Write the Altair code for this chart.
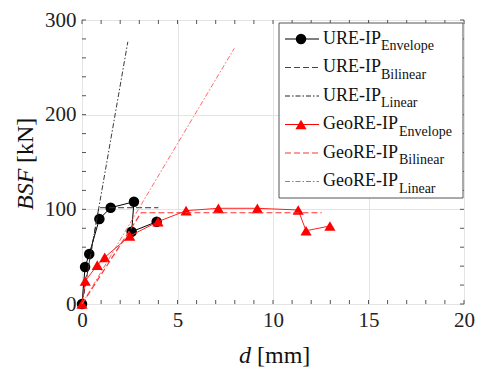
import altair as alt
import pandas as pd

# ---- data ----
ure_env_d = [0, 0.16, 0.38, 0.91, 1.50, 2.72, 2.60, 3.91]
ure_env_f = [0, 39.0, 52.8, 89.8, 101.7, 108.0, 76.4, 86.9]
ure_bil_d = [0, 0.88, 4.0]
ure_bil_f = [0, 101.7, 101.7]
ure_lin_d = [0, 2.40]
ure_lin_f = [0, 277.0]
geo_env_d = [0, 0.17, 0.80, 1.19, 2.50, 3.98, 5.45, 7.14, 9.18, 11.32, 11.73, 12.98]
geo_env_f = [0, 24.3, 41.0, 49.3, 71.8, 87.0, 98.6, 101.1, 101.1, 99.3, 77.4, 82.4]
geo_bil_d = [0, 3.1, 12.55]
geo_bil_f = [0, 96.4, 96.4]
geo_lin_d = [0, 7.97]
geo_lin_f = [0, 270.0]

x_ticks = [0, 5, 10, 15, 20]
y_ticks = [0, 100, 200, 300]
x_minor = list(range(0, 21, 1))
y_minor = list(range(0, 301, 20))

leg_main = ["URE-IP", "URE-IP", "URE-IP", "GeoRE-IP", "GeoRE-IP", "GeoRE-IP"]
leg_sub = ["Envelope", "Bilinear", "Linear", "Envelope", "Bilinear", "Linear"]

# ---- styling ----
FONT = "Liberation Serif"
W, H = 382, 284
FRAME = "#555555"
RED = "#ff0000"
DASH = [6, 3]
DASHDOT = [5, 2, 1.5, 2]
CIRC_SIZE = 110
TRI_SIZE = 125

xs = alt.Scale(domain=[0, 20], nice=False, zero=False)
ys = alt.Scale(domain=[0, 300], nice=False, zero=False)
xax = alt.Axis(values=x_ticks, grid=True, gridColor="#e4e4e4", gridWidth=1, ticks=False,
               domain=False, labelFont=FONT, labelFontSize=21, labelColor="#222222",
               labelPadding=5, title=None, labelFlush=False)
yax = alt.Axis(values=y_ticks, grid=True, gridColor="#e4e4e4", gridWidth=1, ticks=False,
               domain=False, labelFont=FONT, labelFontSize=21, labelColor="#222222",
               labelPadding=6, title=None, labelFlush=False)


def series_df(d, f):
    return pd.DataFrame({"d": d, "f": f, "i": list(range(len(d)))})


def enc(ch):
    return ch.encode(x=alt.X("d:Q", scale=xs, axis=xax),
                     y=alt.Y("f:Q", scale=ys, axis=yax),
                     order=alt.Order("i:Q"))


layers = []

# minor/major inward ticks on all four sides
dfx = pd.DataFrame({"d": x_minor})
dfy = pd.DataFrame({"f": y_minor})
layers.append(alt.Chart(dfx).mark_rule(color=FRAME, strokeWidth=1).encode(
    x=alt.X("d:Q", scale=xs, axis=xax), y=alt.value(H), y2=alt.value(H - 4)))
layers.append(alt.Chart(dfx).mark_rule(color=FRAME, strokeWidth=1).encode(
    x=alt.X("d:Q", scale=xs, axis=xax), y=alt.value(0), y2=alt.value(4)))
layers.append(alt.Chart(dfy).mark_rule(color=FRAME, strokeWidth=1).encode(
    y=alt.Y("f:Q", scale=ys, axis=yax), x=alt.value(0), x2=alt.value(4)))
layers.append(alt.Chart(dfy).mark_rule(color=FRAME, strokeWidth=1).encode(
    y=alt.Y("f:Q", scale=ys, axis=yax), x=alt.value(W), x2=alt.value(W - 4)))

# URE-IP
ue = series_df(ure_env_d, ure_env_f)
layers.append(enc(alt.Chart(ue).mark_line(color="black", strokeWidth=1)))
layers.append(enc(alt.Chart(ue).mark_point(shape="circle", filled=True, color="black",
                                           size=CIRC_SIZE, opacity=1)))
layers.append(enc(alt.Chart(series_df(ure_bil_d, ure_bil_f)).mark_line(
    color="#333333", strokeWidth=1, strokeDash=DASH)))
layers.append(enc(alt.Chart(series_df(ure_lin_d, ure_lin_f)).mark_line(
    color="#222222", strokeWidth=0.9, strokeDash=DASHDOT)))

# GeoRE-IP
ge = series_df(geo_env_d, geo_env_f)
layers.append(enc(alt.Chart(ge).mark_line(color="#ff2020", strokeWidth=1)))
layers.append(enc(alt.Chart(ge).mark_point(shape="triangle-up", filled=True, color=RED,
                                           size=TRI_SIZE, opacity=1)))
layers.append(enc(alt.Chart(series_df(geo_bil_d, geo_bil_f)).mark_line(
    color="#ff3333", strokeWidth=1.2, strokeDash=DASH)))
layers.append(enc(alt.Chart(series_df(geo_lin_d, geo_lin_f)).mark_line(
    color="#ff5555", strokeWidth=0.9, strokeDash=DASHDOT)))

# ---- legend (manual, for subscripts) ----
one = pd.DataFrame({"a": [0]})
LX0, LX1, LY0, LY1 = 197, W - 1, 3, 178
layers.append(alt.Chart(one).mark_rect(fill="white", stroke=FRAME, strokeWidth=1).encode(
    x=alt.value(LX0), x2=alt.value(LX1), y=alt.value(LY0), y2=alt.value(LY1)))

row_h = 28.5
styles = [
    ("black", None, "circle"),
    ("#444444", DASH, None),
    ("#222222", DASHDOT, None),
    (RED, None, "triangle-up"),
    ("#ff3333", DASH, None),
    ("#ff5555", DASHDOT, None),
]
for k, (m, s) in enumerate(zip(leg_main, leg_sub)):
    col, dash, shape = styles[k]
    yl = 19 + k * row_h
    rule_kw = dict(color=col, strokeWidth=1)
    if dash:
        rule_kw["strokeDash"] = dash
    layers.append(alt.Chart(one).mark_rule(**rule_kw).encode(
        x=alt.value(203), x2=alt.value(237), y=alt.value(yl)))
    if shape:
        layers.append(alt.Chart(one).mark_point(shape=shape, filled=True, color=col,
                                                size=CIRC_SIZE if shape == "circle" else TRI_SIZE,
                                                opacity=1).encode(
            x=alt.value(219), y=alt.value(yl)))
    tdf = pd.DataFrame({"m": [m], "s": [s]})
    layers.append(alt.Chart(tdf).mark_text(font=FONT, fontSize=18, align="left",
                                           baseline="alphabetic", color="#111111").encode(
        x=alt.value(241), y=alt.value(23.5 + k * row_h), text="m:N"))
    sub_x = 241 + (58 if m == "URE-IP" else 76)
    layers.append(alt.Chart(tdf).mark_text(font=FONT, fontSize=14, align="left",
                                           baseline="alphabetic", color="#111111").encode(
        x=alt.value(sub_x), y=alt.value(30 + k * row_h), text="s:N"))

# ---- axis titles with italic variable names ----
tt = pd.DataFrame({"a": ["BSF"], "b": ["[kN]"], "c": ["d"], "e": ["[mm]"]})
layers.append(alt.Chart(tt).mark_text(font=FONT, fontSize=24, fontStyle="italic",
                                      align="left", baseline="alphabetic", angle=270,
                                      color="#111111").encode(
    x=alt.value(-49), y=alt.value(190), text="a:N"))
layers.append(alt.Chart(tt).mark_text(font=FONT, fontSize=24, align="left",
                                      baseline="alphabetic", angle=270,
                                      color="#111111").encode(
    x=alt.value(-49), y=alt.value(143), text="b:N"))
layers.append(alt.Chart(tt).mark_text(font=FONT, fontSize=24, fontStyle="italic",
                                      align="left", baseline="alphabetic",
                                      color="#111111").encode(
    x=alt.value(157), y=alt.value(343), text="c:N"))
layers.append(alt.Chart(tt).mark_text(font=FONT, fontSize=24, align="left",
                                      baseline="alphabetic", color="#111111").encode(
    x=alt.value(175), y=alt.value(343), text="e:N"))

chart = alt.layer(*layers).properties(
    width=W, height=H,
    padding={"left": 82, "top": 20, "right": 13, "bottom": 65},
    autosize=alt.AutoSizeParams(type="none"),
).configure_view(stroke=FRAME, strokeWidth=1).configure(font=FONT)

chart.save("out.html", embed_options={"renderer": "svg", "actions": False})
